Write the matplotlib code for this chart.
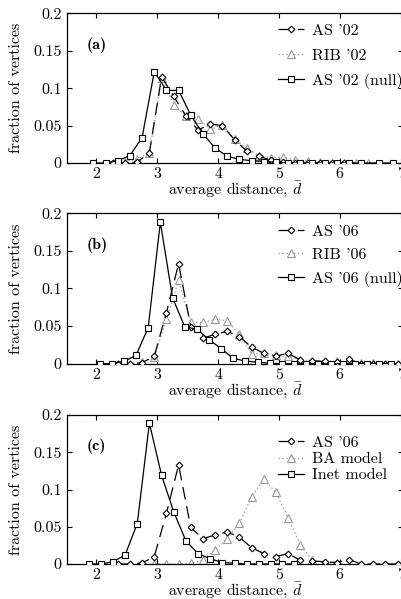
import matplotlib
matplotlib.use('Agg')
import matplotlib.pyplot as plt

plt.rcParams['font.family'] = 'cmr10'
plt.rcParams['mathtext.fontset'] = 'cm'
plt.rcParams['axes.formatter.use_mathtext'] = True
plt.rcParams['lines.scale_dashes'] = False
plt.rcParams['axes.unicode_minus'] = False

# ---------------- data ----------------
xticks = [2, 3, 4, 5, 6, 7]
xtick_labels = ['2', '3', '4', '5', '6', '7']
yticks = [0, 0.05, 0.1, 0.15, 0.2]
ytick_labels = ['0', '0.05', '0.1', '0.15', '0.2']
xlabel = r'average distance, $\bar{d}$'
ylabel = 'fraction of vertices'
panel_labels = ['(a)', '(b)', '(c)']

# panel (a)
x_as02 = [2.27, 2.47, 2.67, 2.87, 3.07, 3.27, 3.47, 3.67, 3.87, 4.07, 4.27, 4.47,
          4.67, 4.87, 5.07, 5.27, 5.47, 5.67, 5.87, 6.07]
y_as02 = [0, 0, 0.001, 0.014, 0.115, 0.089, 0.063, 0.044, 0.052, 0.050, 0.031, 0.016,
          0.009, 0.004, 0.001, 0, 0, 0, 0, 0]
x_rib02 = [2.27, 2.47, 2.67, 2.87, 3.07, 3.27, 3.47, 3.67, 3.87, 4.07, 4.27, 4.47,
           4.67, 4.87, 5.07, 5.27, 5.47, 5.67, 5.87, 6.07, 6.27, 6.47]
y_rib02 = [0, 0.002, 0.005, 0.014, 0.113, 0.078, 0.063, 0.059, 0.045, 0.051, 0.032, 0.020,
           0.010, 0.007, 0.008, 0.004, 0.003, 0.001, 0.0005, 0, 0, 0]
x_null02 = [1.95, 2.15, 2.35, 2.55, 2.75, 2.95, 3.15, 3.35, 3.55, 3.75, 3.95, 4.15,
            4.35, 4.55, 4.75, 4.95, 5.15, 5.35, 5.55, 5.75, 5.95, 6.15, 6.35, 6.65, 6.88]
y_null02 = [0, 0, 0.003, 0.010, 0.034, 0.122, 0.097, 0.097, 0.064, 0.039, 0.020, 0.009,
            0.005, 0.003, 0.002, 0.001, 0, 0, 0, 0, 0, 0, 0, 0, 0]

# panel (b) / (c)
x_as06 = [2.35, 2.55, 2.75, 2.95, 3.15, 3.35, 3.55, 3.75, 3.95, 4.15, 4.35, 4.55,
          4.75, 4.95, 5.15, 5.35, 5.55, 5.75, 5.95, 6.15, 6.35, 6.55, 6.75, 6.95]
y_as06 = [0, 0, 0.0013, 0.010, 0.068, 0.133, 0.049, 0.034, 0.039, 0.043, 0.036, 0.022,
          0.014, 0.010, 0.014, 0.005, 0.004, 0.003, 0.002, 0.006, 0, 0, 0, 0]
x_rib06 = [2.35, 2.55, 2.75, 2.95, 3.15, 3.35, 3.55, 3.75, 3.95, 4.15, 4.35, 4.55,
           4.75, 4.95, 5.15, 5.35, 5.55, 5.75, 5.95, 6.15, 6.35, 6.55, 6.75, 6.95]
y_rib06 = [0, 0, 0.002, 0.009, 0.059, 0.111, 0.055, 0.055, 0.059, 0.057, 0.039, 0.013,
           0.014, 0.011, 0.010, 0.005, 0.004, 0.003, 0.003, 0.002, 0.001, 0.001, 0, 0]
x_null06 = [2.05, 2.25, 2.45, 2.65, 2.85, 3.05, 3.25, 3.45, 3.65, 3.85, 4.05, 4.25,
            4.45, 4.65, 4.85, 5.05, 5.25, 5.45, 5.65, 5.85, 6.05, 6.25, 6.45, 6.65, 6.85]
y_null06 = [0, 0, 0.003, 0.011, 0.048, 0.188, 0.088, 0.049, 0.046, 0.032, 0.020, 0.007,
            0.0035, 0.002, 0.0005, 0, 0, 0, 0, 0, 0, 0, 0, 0, 0]

# panel (c)
x_ba = [2.95, 3.15, 3.35, 3.55, 3.75, 3.95, 4.15, 4.35, 4.55, 4.75, 4.95, 5.15,
        5.35, 5.55, 5.75, 5.95]
y_ba = [0, 0, 0, 0.001, 0.005, 0.019, 0.034, 0.055, 0.090, 0.114, 0.096, 0.062,
        0.026, 0.005, 0.002, 0.001]
x_inet = [1.87, 2.07, 2.27, 2.47, 2.67, 2.87, 3.07, 3.27, 3.47, 3.67, 3.87, 4.07,
          4.27, 4.47, 4.67, 4.87, 5.05, 5.24]
y_inet = [0, 0, 0.003, 0.012, 0.054, 0.189, 0.119, 0.070, 0.031, 0.014, 0.007, 0.002,
          0.001, 0, 0, 0, 0, 0]

labels_a = ["AS '02", "RIB '02", "AS '02 (null)"]
labels_b = ["AS '06", "RIB '06", "AS '06 (null)"]
labels_c = ["AS '06", "BA model", "Inet model"]

# ---------------- styles ----------------
FS = 11.5
GRAY = '#9a9a9a'
st_dia = dict(color='black', marker='D', ms=3.4, mfc='white', mew=0.8, lw=0.9,
              dashes=(9, 5))
st_tri = dict(color=GRAY, marker='^', ms=5.5, mfc='white', mew=0.8, lw=0.9,
              linestyle=(0, (1, 1.8)))
st_sq = dict(color='black', marker='s', ms=4.3, mfc='white', mew=0.8, lw=0.9,
             linestyle='-')

fig = plt.figure(figsize=(4.02, 5.99), dpi=100)
W = 402.0
H = 599.0
left = 67 / W
width = (403 - 67) / W
tops = [13.3, 213.3, 415.0]
bots = [163.0, 363.7, 564.0]

panels = [
    ((x_as02, y_as02), (x_rib02, y_rib02), (x_null02, y_null02), labels_a),
    ((x_as06, y_as06), (x_rib06, y_rib06), (x_null06, y_null06), labels_b),
    ((x_as06, y_as06), (x_ba, y_ba), (x_inet, y_inet), labels_c),
]
leg_anchor = [0.93, 0.925, 0.86]
leg_spacing = [0.65, 0.55, 0.12]

for i, (s1, s2, s3, labs) in enumerate(panels):
    ax = fig.add_axes([left, 1 - bots[i] / H, width, (bots[i] - tops[i]) / H])
    l1, = ax.plot(s1[0], s1[1], label=labs[0], zorder=3, **st_dia)
    l2, = ax.plot(s2[0], s2[1], label=labs[1], zorder=2, **st_tri)
    l3, = ax.plot(s3[0], s3[1], label=labs[2], zorder=4, **st_sq)
    ax.set_xlim(1.515, 7.04)
    ax.set_ylim(0, 0.2)
    ax.set_xticks(xticks)
    ax.set_xticklabels(xtick_labels)
    ax.set_yticks(yticks)
    ax.set_yticklabels(ytick_labels)
    ax.tick_params(direction='in', top=True, right=True, length=3.5, width=0.8,
                   labelsize=FS)
    ax.tick_params(axis='x', pad=3)
    ax.tick_params(axis='y', pad=4)
    for sp in ax.spines.values():
        sp.set_linewidth(0.9)
    ax.set_xlabel(xlabel, fontsize=FS)
    ax.xaxis.set_label_coords(0.5, -0.112)
    ax.set_ylabel(ylabel, fontsize=FS)
    ax.yaxis.set_label_coords(-0.13, 0.5)
    ax.text(0.057, 0.787, panel_labels[i], transform=ax.transAxes,
            fontfamily='cmb10', fontsize=FS, va='center', ha='left')
    ax.legend(handles=[l1, l2, l3], loc='upper left',
              bbox_to_anchor=(0.628, leg_anchor[i]), frameon=False,
              borderpad=0, borderaxespad=0, handlelength=1.6,
              handletextpad=0.5, labelspacing=leg_spacing[i], fontsize=FS)

fig.savefig('out.png', dpi=100)
